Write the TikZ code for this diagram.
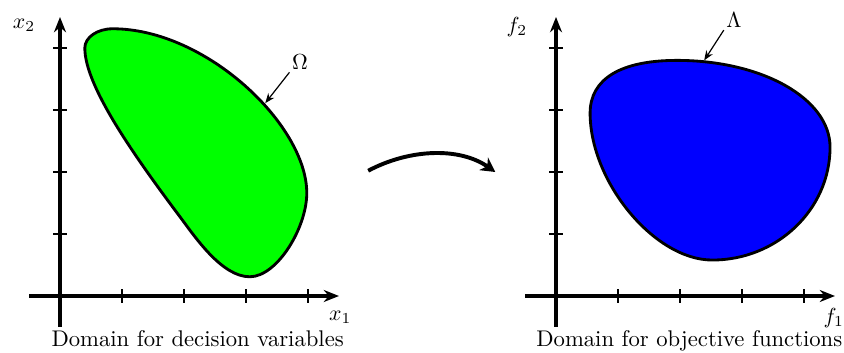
\documentclass[tikz,border=0pt]{standalone}
\usetikzlibrary{arrows.meta}
\begin{document}
\begin{tikzpicture}[
  axis/.style={line width=1.4pt, -{Stealth[length=7pt,width=5.5pt]}},
  tickmark/.style={line width=0.6pt},
  region/.style={line width=1.3pt, draw=black},
  lbl/.style={font=\fontsize{10.4}{12}\selectfont, inner sep=1pt},
  pointer/.style={line width=0.55pt, -{Stealth[length=4.5pt,width=3.5pt]}},
  bigarrow/.style={line width=1.8pt, -{Stealth[length=6.5pt,width=7pt,inset=2pt]}},
]
\useasboundingbox (-0.968,-0.919) rectangle (12.645,4.774);

% ---------- left panel ----------
\coordinate (lx0) at (-0.5,0);
\coordinate (lx1) at (4.5,0);
\coordinate (ly0) at (0,-0.5);
\coordinate (ly1) at (0,4.5);
\draw[axis] (lx0) -- (lx1);
\draw[axis] (ly0) -- (ly1);
\foreach \i in {1,...,4} {
  \draw[tickmark] (\i,-0.11) -- (\i,0.11);
  \draw[tickmark] (-0.11,\i) -- (0.11,\i);
}
\filldraw[region, fill=green]
  (0.40,4.00) .. controls (0.40,4.17) and (0.60,4.31) .. (0.85,4.31)
  .. controls (2.35,4.31) and (3.98,2.76) .. (3.98,1.66)
  .. controls (3.98,1.10) and (3.50,0.31) .. (3.06,0.31)
  .. controls (2.61,0.31) and (2.18,0.95) .. (1.94,1.27)
  .. controls (1.16,2.31) and (0.40,3.40) .. (0.40,4.00) -- cycle;
\node[lbl] (x2) at (-0.58,4.37) {$x_2$};
\node[lbl] (x1) at (4.52,-0.34) {$x_1$};
\node[lbl, anchor=base] (cap1) at (2.22,-0.82) {Domain for decision variables};
\node[lbl] (omega) at (3.87,3.77) {$\Omega$};
\coordinate (omegat) at (3.31,3.11);
\draw[pointer] (omega.south west) -- (omegat);

% ---------- middle arrow ----------
\coordinate (ma) at (4.97,2.02);
\coordinate (mb) at (7.02,2.0);
\draw[bigarrow] (ma) .. controls (5.65,2.38) and (6.45,2.4) .. (mb);

% ---------- right panel ----------
\coordinate (rx0) at (7.5,0);
\coordinate (rx1) at (12.5,0);
\coordinate (ry0) at (8,-0.5);
\coordinate (ry1) at (8,4.5);
\draw[axis] (rx0) -- (rx1);
\draw[axis] (ry0) -- (ry1);
\foreach \i in {1,...,4} {
  \draw[tickmark] (8+\i,-0.11) -- (8+\i,0.11);
  \draw[tickmark] (7.89,\i) -- (8.11,\i);
}
\filldraw[region, fill=blue]
  (8.55,2.95) .. controls (8.55,3.50) and (9.04,3.80) .. (9.95,3.80)
  .. controls (11.33,3.80) and (12.42,3.18) .. (12.42,2.40)
  .. controls (12.42,1.40) and (11.57,0.58) .. (10.52,0.58)
  .. controls (9.59,0.58) and (8.55,1.84) .. (8.55,2.95) -- cycle;
\node[lbl] (f2) at (7.37,4.34) {$f_2$};
\node[lbl] (f1) at (12.48,-0.35) {$f_1$};
\node[lbl, anchor=base] (cap2) at (10.15,-0.82) {Domain for objective functions};
\node[lbl] (lambda) at (10.87,4.45) {$\Lambda$};
\coordinate (lambdat) at (10.39,3.80);
\draw[pointer] (lambda.south west) -- (lambdat);
\end{tikzpicture}
\end{document}
